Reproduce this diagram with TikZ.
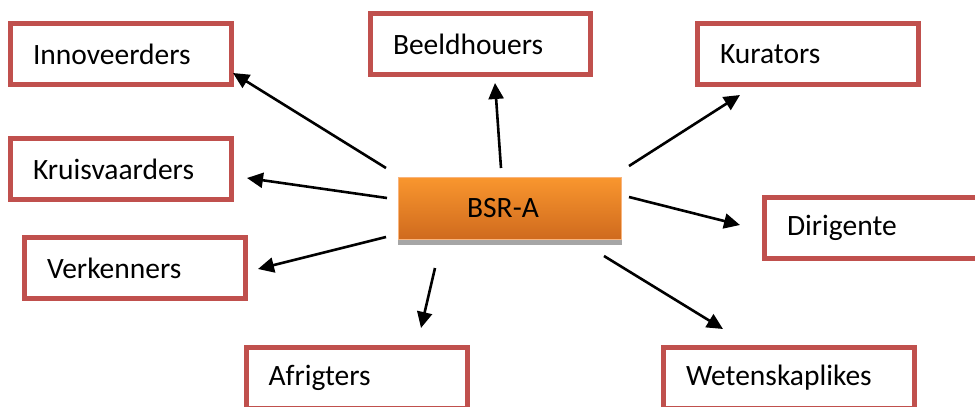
\documentclass[tikz,border=0pt]{standalone}
\usepackage{fontspec}
\setmainfont{Carlito}
\usetikzlibrary{arrows.meta}
\definecolor{boxred}{HTML}{C0504D}
\definecolor{hubtop}{HTML}{F9962E}
\definecolor{hubbot}{HTML}{CF6A1E}
\definecolor{hubedge}{HTML}{F9B47C}
\definecolor{hubshadow}{HTML}{A6A6A6}
\tikzset{
  labelfont/.style={font=\fontsize{29.5}{35}\selectfont},
  rolebox/.style={draw=boxred, line width=5pt, fill=white, rectangle,
    minimum height=61pt, minimum width=#1-5pt, text width=#1-50pt,
    inner xsep=22.5pt, inner ysep=0pt, align=left, labelfont},
  rolebox/.default=226pt,
  hub/.style={rectangle, draw=hubedge, line width=1pt,
    top color=hubtop, bottom color=hubbot,
    minimum width=223pt, minimum height=62pt, inner sep=0pt},
  link/.style={line width=2.6pt, -{Triangle[length=16pt,width=15pt]}}
}
\begin{document}
\begin{tikzpicture}[x=1pt,y=-1pt]
  \useasboundingbox (0,0) rectangle (975,407);
  \clip (0,0) rectangle (975,407);

  % outer boxes
  \node[rolebox] (inno) at (121,54) {Innoveerders};
  \node[rolebox=225pt] (beeld) at (480.5,44) {Beeldhouers};
  \node[rolebox] (kur) at (808,54) {Kurators};
  \node[rolebox] (kruis) at (121,169) {Kruisvaarders};
  \node[rolebox] (verk) at (135,268) {Verkenners};
  \node[rolebox] (dir) at (875,228) {Dirigente};
  \node[rolebox] (afr) at (356.5,378) {Afrigters};
  \node[rolebox=256pt] (wet) at (789,378) {Wetenskaplikes};

  % central box with its drop shadow
  \fill[hubshadow] (398,182) rectangle (622,245);
  \node[hub] (hubnode) at (510,208.5) {};
  \node[labelfont] (hubtext) at (503,208.5) {BSR-A};

  % arrow end points
  \coordinate (sInno) at (386,168);  \coordinate (tInno) at (233,73);
  \coordinate (sKruis) at (387,198); \coordinate (tKruis) at (247,178);
  \coordinate (sVerk) at (386,237);  \coordinate (tVerk) at (258,269);
  \coordinate (sBeeld) at (501,168); \coordinate (tBeeld) at (495,83);
  \coordinate (sKur) at (629,166);   \coordinate (tKur) at (740,95);
  \coordinate (sDir) at (629,197);   \coordinate (tDir) at (740,225);
  \coordinate (sAfr) at (435,268);   \coordinate (tAfr) at (421,328);
  \coordinate (sWet) at (604,256);   \coordinate (tWet) at (723,329);

  \draw[link] (sInno) -- (tInno);
  \draw[link] (sKruis) -- (tKruis);
  \draw[link] (sVerk) -- (tVerk);
  \draw[link] (sBeeld) -- (tBeeld);
  \draw[link] (sKur) -- (tKur);
  \draw[link] (sDir) -- (tDir);
  \draw[link] (sAfr) -- (tAfr);
  \draw[link] (sWet) -- (tWet);
\end{tikzpicture}
\end{document}
